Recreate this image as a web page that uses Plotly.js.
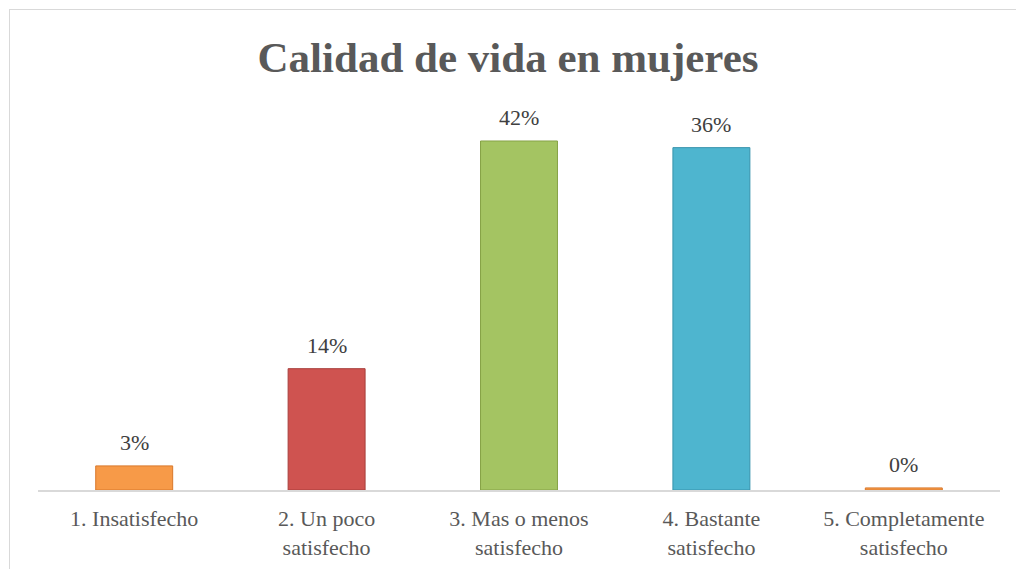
<!DOCTYPE html>
<html>
<head>
<meta charset="utf-8">
<script src="https://cdn.plot.ly/plotly-3.0.1.min.js"></script>
<style>
  html, body { margin: 0; padding: 0; background: #fff; }
  #wrap { position: relative; width: 1016px; height: 569px; overflow: hidden; }
  #chart { width: 1016px; height: 569px; }
  #frame { position: absolute; left: 9px; top: 9px; width: 1030px; height: 600px;
           border: 1px solid #d9d9d9; pointer-events: none; box-sizing: border-box; }
</style>
</head>
<body>
<div id="wrap">
  <div id="chart"></div>
  <div id="frame"></div>
</div>
<script>
// Data
const categories = [
  "1. Insatisfecho",
  "2. Un poco<br>satisfecho",
  "3. Mas o menos<br>satisfecho",
  "4. Bastante<br>satisfecho",
  "5. Completamente<br>satisfecho"
];
// bar heights as drawn (percent)
const barValues = [2.9, 14.6, 42, 41.2, 0.25];
// data label text as printed
const labelText = ["3%", "14%", "42%", "36%", "0%"];
const barColors = ["#F79A48", "#CF5350", "#A4C462", "#4EB5CF", "#F79A48"];
const edgeColors = ["#D9782B", "#A83E3B", "#86A246", "#3693AC", "#D9782B"];

const SERIF = '"Liberation Serif", "Times New Roman", Times, "DejaVu Serif", serif';

const trace = {
  type: "bar",
  x: categories,
  y: barValues,
  marker: { color: barColors, line: { color: edgeColors, width: 1 } },
  hoverinfo: "skip"
};

const annotations = categories.map((c, i) => ({
  x: c, y: barValues[i], xref: "x", yref: "y",
  text: labelText[i], showarrow: false,
  yanchor: "bottom", yshift: 9,
  font: { family: SERIF, size: 22, color: "#404040" }
}));

const layout = {
  width: 1016, height: 569,
  paper_bgcolor: "#ffffff", plot_bgcolor: "#ffffff",
  font: { family: SERIF },
  margin: { l: 38, r: 16, t: 110, b: 79 },
  bargap: 0.6,
  showlegend: false,
  title: {
    text: "<b>Calidad de vida en mujeres</b>",
    font: { family: SERIF, size: 43, color: "#595959" },
    x: 0.5, xref: "container", xanchor: "center",
    y: 1 - 57 / 569, yref: "container", yanchor: "middle"
  },
  xaxis: {
    type: "category",
    showline: true, linecolor: "#d9d9d9", linewidth: 2,
    showgrid: false, zeroline: false, ticks: "",
    ticklabelstandoff: 8,
    tickfont: { family: SERIF, size: 22, color: "#595959" },
    fixedrange: true
  },
  yaxis: {
    range: [0, 45.73],
    visible: false, showgrid: false, zeroline: false,
    fixedrange: true
  },
  annotations: annotations
};

Plotly.newPlot("chart", [trace], layout, { displayModeBar: false, staticPlot: true });
</script>
</body>
</html>
